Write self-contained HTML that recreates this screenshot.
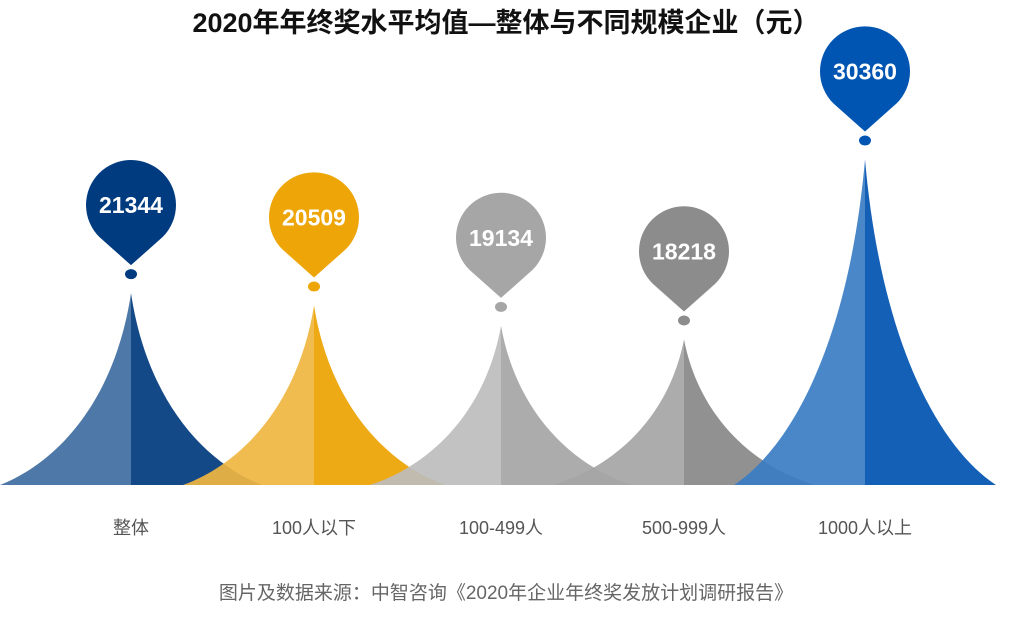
<!DOCTYPE html>
<html><head><meta charset="utf-8"><style>
html,body{margin:0;padding:0;background:#fff;}
body{width:1012px;height:622px;overflow:hidden;position:relative;font-family:"Liberation Sans","Noto Sans CJK SC",sans-serif;}
#title{position:absolute;left:0;width:1012px;top:1px;text-align:center;font-size:27px;font-weight:bold;color:#111;}
#src{position:absolute;left:0;width:1012px;top:578px;text-align:center;font-size:19px;color:#666;}
svg{position:absolute;left:0;top:0;}
</style></head><body>
<div id="title">2020年年终奖水平均值—整体与不同规模企业（元）</div>
<svg id="chart" width="1012" height="622"></svg>
<div id="src">图片及数据来源：中智咨询《2020年企业年终奖发放计划调研报告》</div>
<script>
const categories=["整体","100人以下","100-499人","500-999人","1000人以上"];
const values=[21344,20509,19134,18218,30360];
const lightColors=["#3f6c9f","#f0b640","#bdbdbd","#a5a5a5","#3b7dc4"];
const darkColors=["#003a7e","#eca300","#a5a5a5","#888888","#0053b0"];
const pinColors=["#003b80","#eda508","#a6a6a6","#8c8c8c","#0055b2"];
const NS="http://www.w3.org/2000/svg";
const svg=document.getElementById('chart');
const base=485, centers=[131,314,501,684,865], hw=131;
function yScale(v){return base-(v-8400)*0.01482;}
function mk(t,a){const e=document.createElementNS(NS,t);for(const k in a)e.setAttribute(k,a[k]);svg.appendChild(e);return e;}
values.forEach((v,i)=>{
  const cx=centers[i], top=yScale(v), h=base-top;
  const l=mk('path',{d:`M${cx-hw},${base} C${cx-hw*0.55},${base-h*0.12} ${cx-hw*0.12},${base-h*0.45} ${cx},${top} L${cx},${base} Z`,fill:lightColors[i],'fill-opacity':0.92});
  
  
  const r=mk('path',{d:`M${cx+hw},${base} C${cx+hw*0.55},${base-h*0.12} ${cx+hw*0.12},${base-h*0.45} ${cx},${top} L${cx},${base} Z`,fill:darkColors[i],'fill-opacity':0.92});
  
  
  const d=mk('ellipse',{cx:cx,cy:top-19,rx:6,ry:5,fill:pinColors[i]});
  
  
  const pc=top-88, R=45, tip=pc+60;
  const pin=mk('path',{d:`M${cx},${tip} L${cx-R*0.7},${pc+R*0.71} A${R},${R} 0 1 1 ${cx+R*0.7},${pc+R*0.71} Z`,fill:pinColors[i]});
  
  
  const t=mk('text',{x:cx,y:pc+8,'text-anchor':'middle','font-size':23,'font-weight':'bold',fill:'#fff','font-family':'Liberation Sans, sans-serif'});
  t.textContent=v;
  
  
  const c=mk('text',{x:cx,y:534,'text-anchor':'middle','font-size':18,fill:'#555','font-family':'Liberation Sans, Noto Sans CJK SC, sans-serif'});
  c.textContent=categories[i];
  
  
});
</script>
</body></html>
